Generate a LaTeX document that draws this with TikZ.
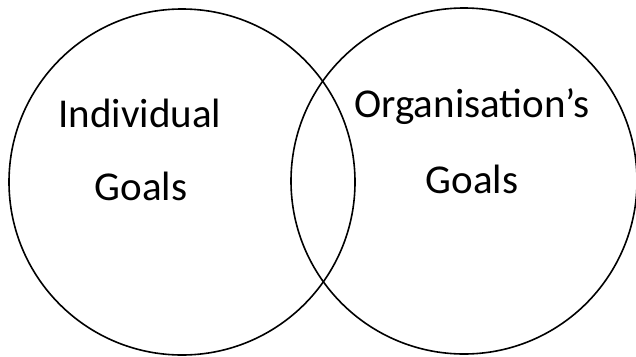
\documentclass[tikz,border=0pt]{standalone}
\usepackage{fontspec}
\setmainfont{Carlito}
\usepackage{tikz}

\begin{document}
\begin{tikzpicture}[
                x=1pt, y=-1pt,
                goalset/.style={draw, circle, line width=1.6pt, minimum size=346pt, inner sep=0pt},
                goaltext/.style={anchor=base, inner sep=0pt, font=\fontsize{41}{49}\selectfont},
            ]
                \useasboundingbox (0,0) rectangle (636,356);

                % Circles
                \node[goalset] (indiv) at (182,182) {};
                \node[goalset] (org) at (464,181) {};

                % Labels
                \node[goaltext] (indivname) at (140,127) {Individual};
                \node[goaltext] (indivgoals) at (141,200) {Goals};
                \node[goaltext] (orgname) at (472,117) {Organisation’s};
                \node[goaltext] (orggoals) at (472,193) {Goals};
            \end{tikzpicture}
\end{document}
